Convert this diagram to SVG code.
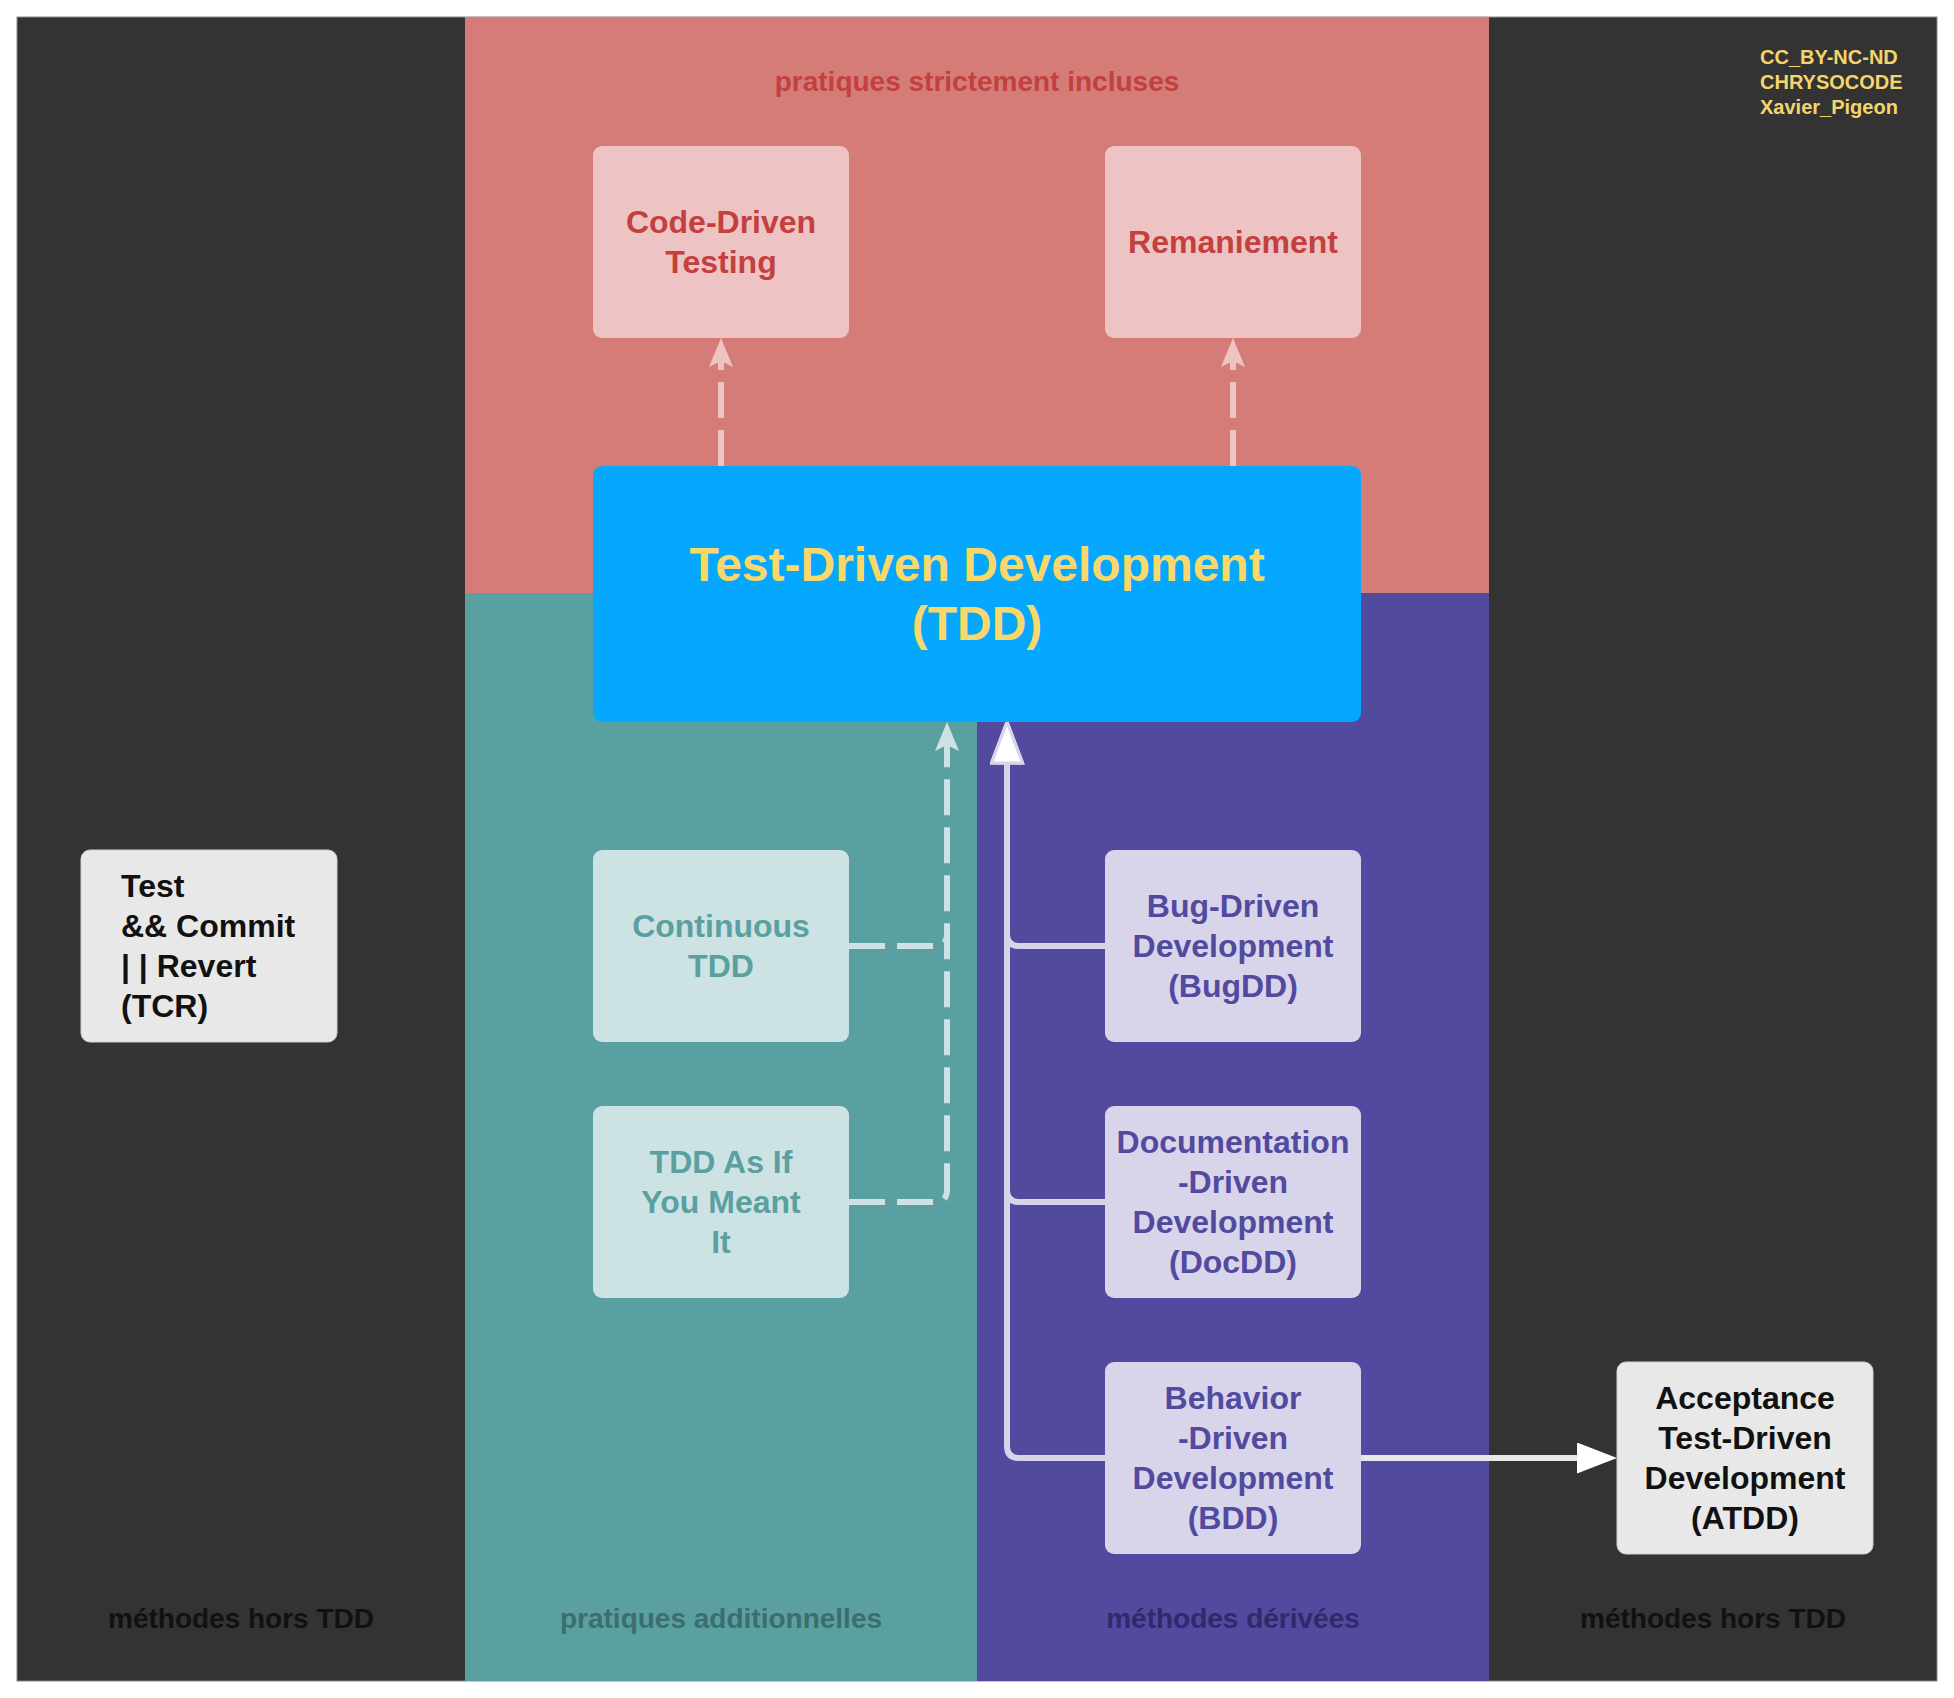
<svg xmlns="http://www.w3.org/2000/svg" width="1954" height="1698" viewBox="0 0 1954 1698">
  <style>
    .t { font-family: "Liberation Sans", Arial, sans-serif; font-weight: bold; }
    .box { font-size: 32px; text-anchor: middle; }
    .band { font-size: 28px; text-anchor: middle; }
    .red { fill: #c3403e; }
    .teal { fill: #5aa0a0; }
    .purple { fill: #524a9e; }
    .black { fill: #111111; }
    .dash-red { fill: none; stroke: #edc4c3; stroke-width: 6; stroke-dasharray: 36 12; }
    .dash-teal { fill: none; stroke: #cde2e3; stroke-width: 6; stroke-dasharray: 36 12; }
    .solid-purple { fill: none; stroke: #d8d5ea; stroke-width: 6; }
    .solid-grey { fill: none; stroke: #e8e8e8; stroke-width: 6; }
  </style>
  <defs>
    <!-- notched arrow for dashed links -->
    <marker id="arrowPink" viewBox="0 0 29 24" refX="8" refY="12" markerWidth="29" markerHeight="24" markerUnits="userSpaceOnUse" orient="auto">
      <path d="M0,0 L29,12 L0,24 L6,12 Z" fill="#edc4c3"/>
    </marker>
    <marker id="arrowTeal" viewBox="0 0 29 24" refX="8" refY="12" markerWidth="29" markerHeight="24" markerUnits="userSpaceOnUse" orient="auto">
      <path d="M0,0 L29,12 L0,24 L6,12 Z" fill="#cde2e3"/>
    </marker>
    <!-- hollow-looking block arrow for derived methods -->
    <marker id="blockPurple" viewBox="-2 -2 45 35" refX="3" refY="15.5" markerWidth="45" markerHeight="35" markerUnits="userSpaceOnUse" orient="auto">
      <path d="M0,0 L41,15.5 L0,31 Z" fill="#ffffff" stroke="#d8d5ea" stroke-width="3"/>
    </marker>
    <marker id="blockWhite" viewBox="0 0 40 31" refX="3" refY="15.5" markerWidth="40" markerHeight="31" markerUnits="userSpaceOnUse" orient="auto">
      <path d="M0,0 L40,15.5 L0,31 Z" fill="#ffffff"/>
    </marker>
  </defs>

  <!-- background bands -->
  <g id="bands">
    <rect x="0" y="0" width="1954" height="1698" fill="#ffffff"/>
    <rect x="17" y="17" width="1920" height="1664" fill="#333333" stroke="#8a8a8a" stroke-width="1"/>
    <rect x="465" y="17" width="1024" height="576" fill="#d57c79"/>
    <rect x="465" y="593" width="512" height="1088" fill="#5aa0a0"/>
    <rect x="977" y="593" width="512" height="1088" fill="#524a9e"/>
  </g>

  <!-- band titles -->
  <g id="band-labels" class="t">
    <text class="band red" x="977" y="91">pratiques strictement incluses</text>
    <text class="band black" x="241" y="1628">méthodes hors TDD</text>
    <text class="band" x="721" y="1628" fill="#3c6e6e">pratiques additionnelles</text>
    <text class="band" x="1233" y="1628" fill="#2f2a6a">méthodes dérivées</text>
    <text class="band black" x="1713" y="1628">méthodes hors TDD</text>
  </g>

  <g id="credits" class="t" font-size="20" fill="#f5d56b">
    <text x="1760" y="64">CC_BY-NC-ND</text>
    <text x="1760" y="89">CHRYSOCODE</text>
    <text x="1760" y="114">Xavier_Pigeon</text>
  </g>

  <!-- connectors -->
  <g id="connectors">
    <path class="dash-red" d="M721,466 L721,359" marker-end="url(#arrowPink)"/>
    <path class="dash-red" d="M1233,466 L1233,359" marker-end="url(#arrowPink)"/>
    <path class="dash-teal" d="M849,946 L935,946 Q947,946 947,934"/>
    <path class="dash-teal" d="M849,1202 L935,1202 Q947,1202 947,1190 L947,743" marker-end="url(#arrowTeal)"/>
    <path class="solid-purple" d="M1105,946 L1019,946 Q1007,946 1007,934 L1007,760" marker-end="url(#blockPurple)"/>
    <path class="solid-purple" d="M1105,1202 L1019,1202 Q1007,1202 1007,1190 L1007,760" marker-end="url(#blockPurple)"/>
    <path class="solid-purple" d="M1105,1458 L1019,1458 Q1007,1458 1007,1446 L1007,760" marker-end="url(#blockPurple)"/>
    <path class="solid-grey" d="M1361,1458 L1580,1458" marker-end="url(#blockWhite)"/>
  </g>

  <!-- nodes -->
  <g id="node-code-driven">
    <rect x="593" y="146" width="256" height="192" rx="9" fill="#edc4c3"/>
    <text class="t box red" x="721" y="233">Code-Driven</text>
    <text class="t box red" x="721" y="273">Testing</text>
  </g>
  <g id="node-remaniement">
    <rect x="1105" y="146" width="256" height="192" rx="9" fill="#edc4c3"/>
    <text class="t box red" x="1233" y="253">Remaniement</text>
  </g>
  <g id="node-tdd">
    <rect x="593" y="466" width="768" height="256" rx="9" fill="#05a8fe"/>
    <text class="t" x="977" y="581" font-size="48" text-anchor="middle" fill="#f8d86b">Test-Driven Development</text>
    <text class="t" x="977" y="640" font-size="48" text-anchor="middle" fill="#f8d86b">(TDD)</text>
  </g>
  <g id="node-continuous">
    <rect x="593" y="850" width="256" height="192" rx="9" fill="#cde2e3"/>
    <text class="t box teal" x="721" y="937">Continuous</text>
    <text class="t box teal" x="721" y="977">TDD</text>
  </g>
  <g id="node-as-if">
    <rect x="593" y="1106" width="256" height="192" rx="9" fill="#cde2e3"/>
    <text class="t box teal" x="721" y="1173">TDD As If</text>
    <text class="t box teal" x="721" y="1213">You Meant</text>
    <text class="t box teal" x="721" y="1253">It</text>
  </g>
  <g id="node-bugdd">
    <rect x="1105" y="850" width="256" height="192" rx="9" fill="#d8d5ea"/>
    <text class="t box purple" x="1233" y="917">Bug-Driven</text>
    <text class="t box purple" x="1233" y="957">Development</text>
    <text class="t box purple" x="1233" y="997">(BugDD)</text>
  </g>
  <g id="node-docdd">
    <rect x="1105" y="1106" width="256" height="192" rx="9" fill="#d8d5ea"/>
    <text class="t box purple" x="1233" y="1153">Documentation</text>
    <text class="t box purple" x="1233" y="1193">-Driven</text>
    <text class="t box purple" x="1233" y="1233">Development</text>
    <text class="t box purple" x="1233" y="1273">(DocDD)</text>
  </g>
  <g id="node-bdd">
    <rect x="1105" y="1362" width="256" height="192" rx="9" fill="#d8d5ea"/>
    <text class="t box purple" x="1233" y="1409">Behavior</text>
    <text class="t box purple" x="1233" y="1449">-Driven</text>
    <text class="t box purple" x="1233" y="1489">Development</text>
    <text class="t box purple" x="1233" y="1529">(BDD)</text>
  </g>
  <g id="node-tcr">
    <rect x="81" y="850" width="256" height="192" rx="9" fill="#e8e8e8" stroke="#d0d0d0" stroke-width="1"/>
    <text class="t black" x="121" y="897" font-size="32">Test</text>
    <text class="t black" x="121" y="937" font-size="32">&amp;&amp; Commit</text>
    <text class="t black" x="121" y="977" font-size="32">| | Revert</text>
    <text class="t black" x="121" y="1017" font-size="32">(TCR)</text>
  </g>
  <g id="node-atdd">
    <rect x="1617" y="1362" width="256" height="192" rx="9" fill="#e8e8e8" stroke="#d0d0d0" stroke-width="1"/>
    <text class="t box black" x="1745" y="1409">Acceptance</text>
    <text class="t box black" x="1745" y="1449">Test-Driven</text>
    <text class="t box black" x="1745" y="1489">Development</text>
    <text class="t box black" x="1745" y="1529">(ATDD)</text>
  </g>
</svg>
